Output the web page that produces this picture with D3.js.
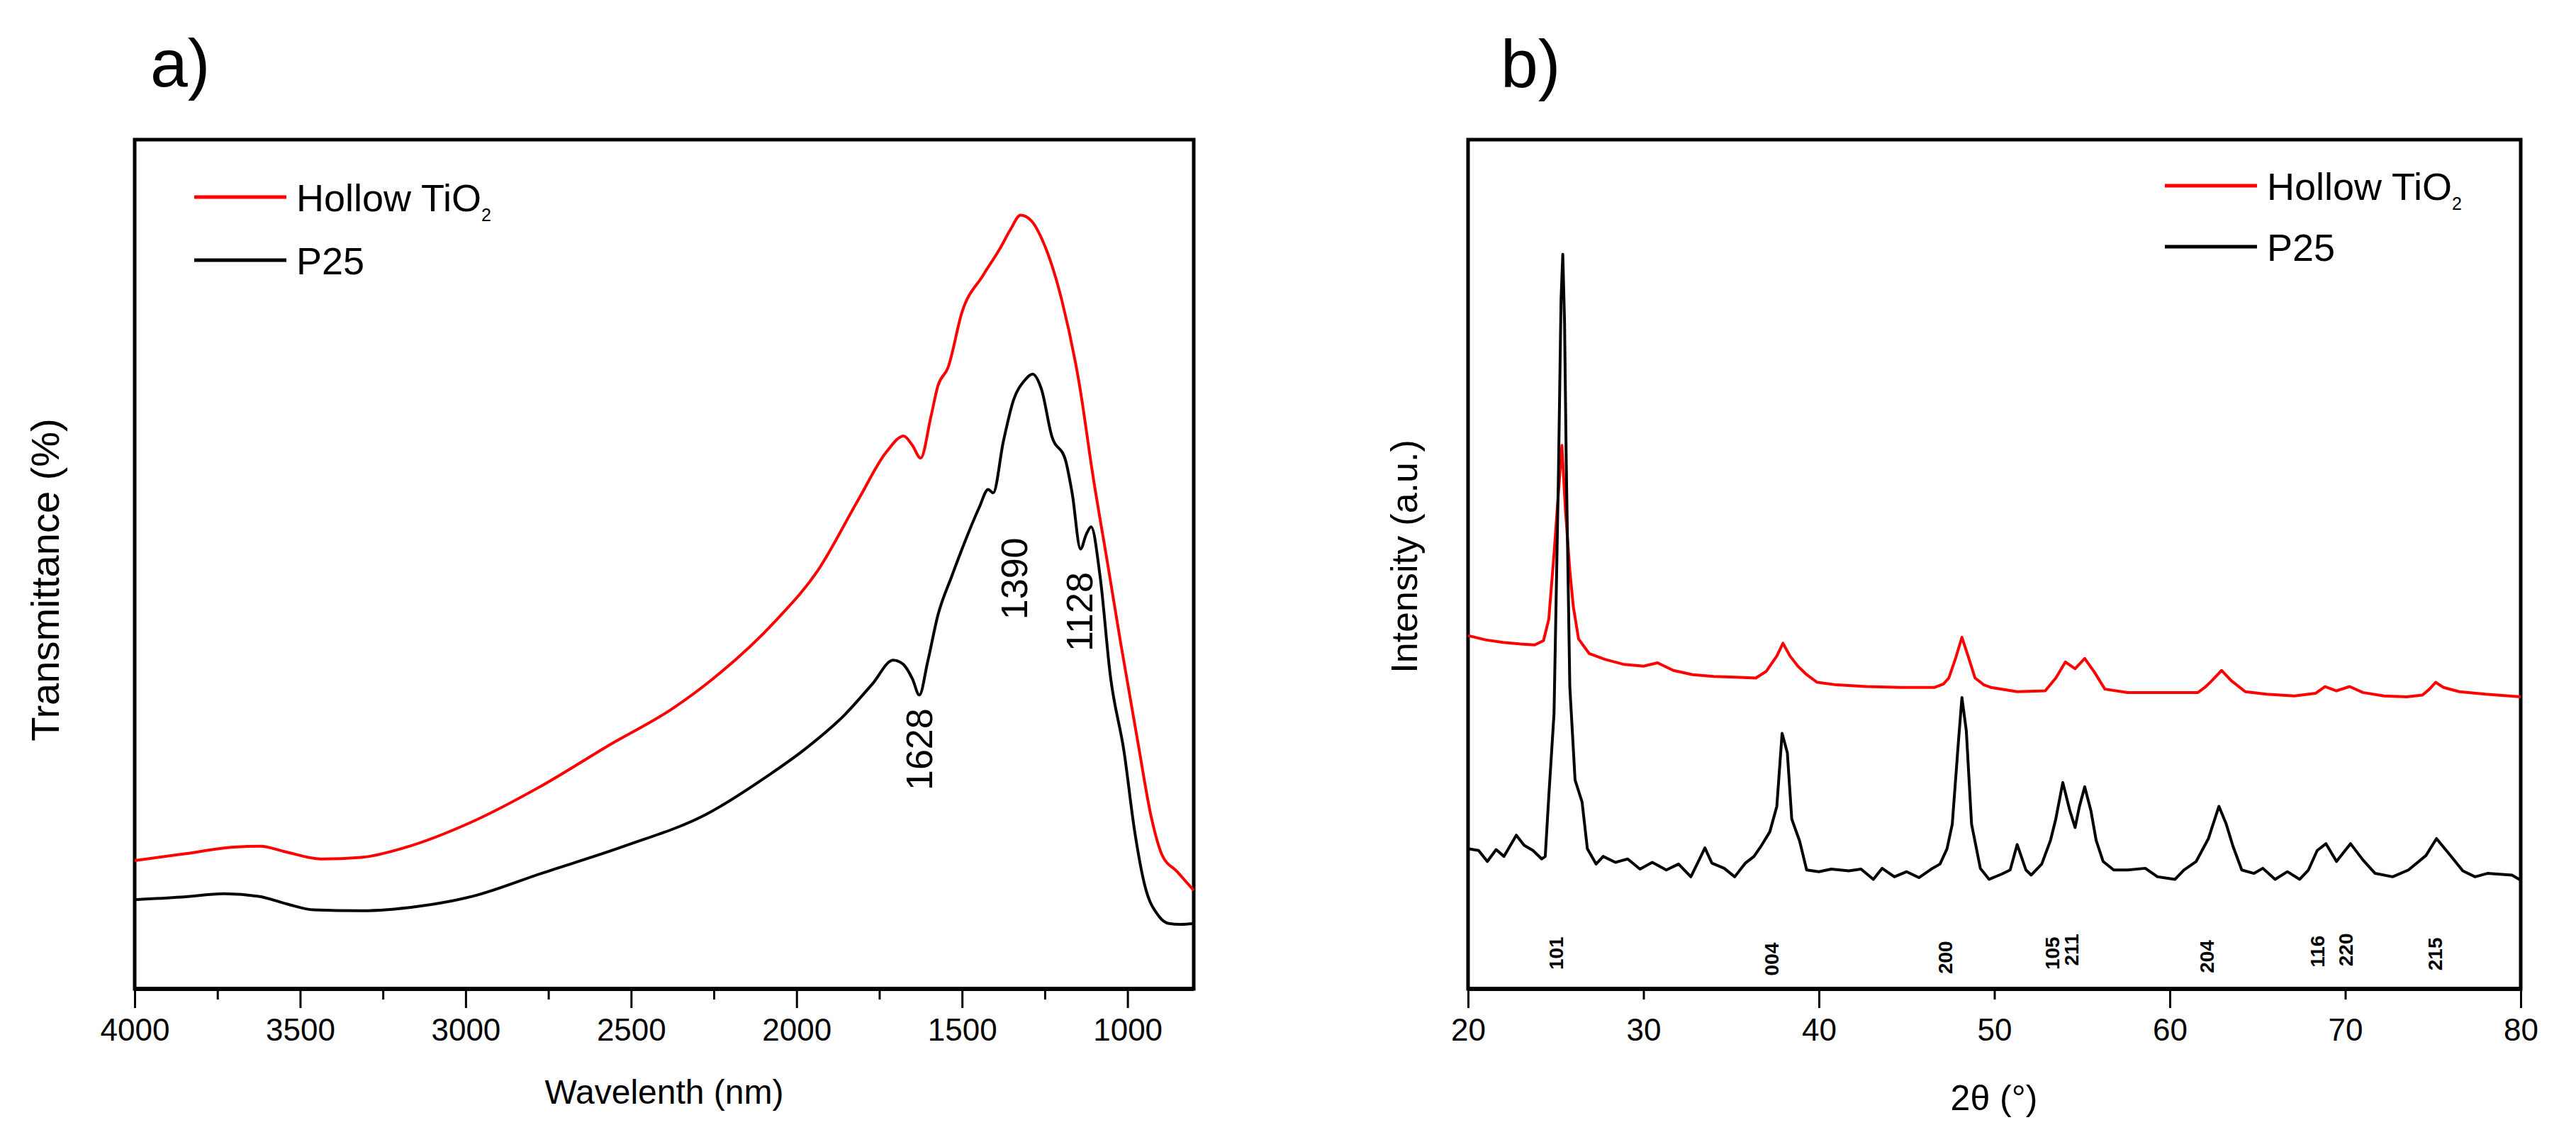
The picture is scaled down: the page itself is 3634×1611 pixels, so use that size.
<!DOCTYPE html>
<html>
<head>
<meta charset="utf-8">
<script src="https://cdn.jsdelivr.net/npm/d3@7"></script>
<style>
  body { margin: 0; background: #fff; }
  text { font-family: "Liberation Sans", Arial, sans-serif; fill: #000; }
</style>
</head>
<body>
<svg id="chart"></svg>
<script>
// ---- panel a : FTIR ----
const ftirHollow = [[4000,15.1],[3850,15.9],[3700,16.7],[3620,16.8],[3550,16.2],[3437,15.3],[3312,15.5],[3187,16.6],
  [2979,19.7],[2771,23.9],[2562,28.8],[2375,33.0],[2250,36.6],[2062,43.4],[1937,49.2],[1812,57.7],[1729,63.2],
  [1677,65.1],[1650,64.0],[1625,62.5],[1594,67.4],[1573,71.0],[1542,73.2],[1500,79.7],[1437,84.0],[1385,87.2],
  [1354,89.4],[1323,91.1],[1292,90.5],[1250,87.5],[1198,81.0],[1146,71.3],[1104,60.3],[1062,50.5],[1021,40.8],
  [969,29.1],[927,20.0],[896,15.8],[850,13.8],[800,11.6]];
const ftirP25 = [[4000,10.5],[3860,10.8],[3729,11.2],[3625,10.9],[3540,10.0],[3458,9.3],[3312,9.2],[3146,9.7],
  [2979,10.9],[2771,13.6],[2521,16.8],[2271,20.6],[2083,25.2],[1979,28.1],[1854,32.3],[1771,35.9],[1708,38.7],
  [1677,38.2],[1650,36.5],[1629,34.6],[1604,38.5],[1573,44.0],[1531,48.6],[1490,52.8],[1448,56.7],[1421,58.8],
  [1406,58.4],[1375,64.5],[1344,69.4],[1312,71.6],[1287,72.4],[1260,70.6],[1229,65.1],[1187,62.2],[1167,58.3],
  [1142,51.8],[1125,53.5],[1110,54.4],[1083,48.6],[1052,36.9],[1010,27.8],[979,18.7],[948,12.2],[906,8.6],
  [875,7.7],[840,7.6],[800,7.7]];
const ftirNotes = [["1628",1631,28.2],["1390",1344,48.3],["1128",1147,44.4]];
const ftirTicks = [4000,3500,3000,2500,2000,1500,1000];
const ftirMinor = [3750,3250,2750,2250,1750,1250];

// ---- panel b : XRD ----
const xrdHollow = [[20.0,41.6],[21.0,41.1],[22.0,40.8],[23.0,40.6],[23.8,40.5],[24.3,41.0],[24.6,43.5],[24.9,51.2],
  [25.15,58.4],[25.35,64.0],[25.55,56.4],[25.8,49.3],[26.0,45.0],[26.3,41.2],[26.9,39.5],[27.8,38.8],[28.9,38.2],
  [30.0,38.0],[30.8,38.4],[31.7,37.5],[32.8,37.0],[34.0,36.8],[35.2,36.7],[36.4,36.6],[37.0,37.4],[37.6,39.2],
  [37.95,40.7],[38.35,39.2],[38.8,38.0],[39.3,37.0],[39.9,36.1],[41.0,35.8],[42.7,35.6],[44.7,35.5],[46.6,35.5],
  [47.1,35.9],[47.4,36.6],[47.8,39.0],[48.15,41.4],[48.5,39.2],[48.9,36.6],[49.4,35.8],[49.8,35.5],[51.3,35.0],
  [52.9,35.1],[53.5,36.6],[54.05,38.5],[54.6,37.7],[55.15,38.9],[55.7,37.3],[56.3,35.3],[57.6,34.9],[59.5,34.9],
  [61.6,34.9],[62.0,35.5],[62.4,36.3],[62.95,37.5],[63.5,36.3],[64.3,35.0],[65.5,34.7],[67.1,34.5],[68.3,34.8],
  [68.85,35.6],[69.5,35.1],[70.25,35.6],[71.0,34.9],[72.2,34.5],[73.5,34.4],[74.4,34.6],[74.8,35.3],[75.15,36.1],
  [75.6,35.5],[76.5,35.0],[78.0,34.7],[80.0,34.4]];
const xrdP25 = [[20.0,16.5],[20.6,16.3],[21.1,15.0],[21.6,16.4],[22.05,15.6],[22.75,18.1],[23.2,16.9],[23.7,16.3],
  [24.2,15.3],[24.4,15.6],[24.6,22.6],[24.9,32.4],[25.15,60.3],[25.3,81.1],[25.4,86.5],[25.5,78.5],[25.6,61.6],
  [25.8,35.6],[26.1,24.6],[26.5,22.0],[26.8,16.5],[27.3,14.7],[27.7,15.6],[28.4,14.9],[29.1,15.3],[29.8,14.1],
  [30.5,14.9],[31.3,14.0],[32.0,14.7],[32.7,13.2],[33.2,15.3],[33.5,16.6],[33.9,14.8],[34.6,14.2],[35.2,13.2],
  [35.8,14.8],[36.3,15.6],[36.7,16.8],[37.2,18.5],[37.6,21.5],[37.9,30.1],[38.2,27.8],[38.45,20.0],[38.9,17.4],
  [39.3,14.0],[40.0,13.8],[40.7,14.1],[41.7,13.9],[42.4,14.1],[43.1,12.9],[43.6,14.2],[44.3,13.2],[45.0,13.8],
  [45.7,13.1],[46.4,14.1],[46.9,14.7],[47.3,16.5],[47.6,19.4],[47.95,29.1],[48.15,34.3],[48.4,30.4],[48.7,19.4],
  [49.2,14.2],[49.7,12.9],[50.4,13.5],[50.9,14.0],[51.3,17.0],[51.8,14.0],[52.1,13.4],[52.7,14.7],[53.2,17.5],
  [53.5,20.0],[53.9,24.3],[54.3,21.0],[54.6,19.0],[54.85,21.5],[55.15,23.8],[55.5,21.0],[55.8,17.5],[56.2,15.0],
  [56.8,14.0],[57.6,14.0],[58.6,14.2],[59.3,13.2],[60.3,12.9],[60.8,14.0],[61.5,15.0],[62.2,17.7],[62.8,21.5],
  [63.2,19.5],[63.6,16.8],[64.1,14.0],[64.8,13.6],[65.3,14.2],[66.0,12.9],[66.7,13.8],[67.4,12.9],[67.9,14.0],
  [68.4,16.3],[68.9,17.1],[69.5,15.0],[70.3,17.1],[71.0,15.2],[71.7,13.6],[72.7,13.2],[73.6,14.0],[74.6,15.7],
  [75.2,17.7],[76.0,15.7],[76.7,13.9],[77.4,13.2],[78.1,13.6],[78.8,13.5],[79.5,13.4],[80.0,12.8]];
const xrdPeaks = [["101",25.0,4.2],["004",37.3,3.5],["200",47.2,3.7],["105",53.3,4.2],["211",54.4,4.6],
  ["204",62.1,3.8],["116",68.4,4.4],["220",70.0,4.6],["215",75.1,4.1]];
const xrdTicks = [20,30,40,50,60,70,80];
const xrdMajor = [20,40,60,80];

const seriesNames = ["Hollow TiO", "P25"];
const seriesColors = ["#ff0000", "#000000"];

const W = 3634, H = 1611;
const plotTop = 197, plotBottom = 1395;

const svg = d3.select("#chart").attr("width", W).attr("height", H);

const yA = d3.scaleLinear().domain([0, 100]).range([plotBottom, plotTop]);
const xA = d3.scaleLinear().domain([4000, 800]).range([190, 1684]);
const xB = d3.scaleLinear().domain([20, 80]).range([2071, 3556]);

function frame(x0, x1) {
    svg.append("rect")
        .attr("x", x0).attr("y", plotTop)
        .attr("width", x1 - x0).attr("height", plotBottom - plotTop)
        .attr("fill", "none").attr("stroke", "#000").attr("stroke-width", 5);
}

function styleAxis(g) {
    g.select(".domain").remove();
    g.selectAll(".tick line").attr("stroke", "#000").attr("stroke-width", 3);
    g.selectAll(".tick text").attr("font-size", 44).attr("font-family", "Liberation Sans, Arial, sans-serif");
}

// panel a
frame(190, 1684);
svg.append("g").attr("transform", `translate(0,${plotBottom})`)
    .call(d3.axisBottom(xA).tickValues(ftirTicks).tickSize(27).tickPadding(15).tickFormat(d3.format("d")))
    .call(styleAxis);
svg.append("g").attr("transform", `translate(0,${plotBottom})`)
    .call(d3.axisBottom(xA).tickValues(ftirMinor).tickSize(15).tickFormat(""))
    .call(styleAxis);
svg.append("line").attr("x1", 190).attr("x2", 1684).attr("y1", plotBottom).attr("y2", plotBottom)
    .attr("stroke", "#000").attr("stroke-width", 6);

const lineA = d3.line().x(d => xA(d[0])).y(d => yA(d[1])).curve(d3.curveMonotoneX);
[ftirHollow, ftirP25].forEach((s, i) => {
    svg.append("path").datum(s).attr("d", lineA)
        .attr("fill", "none").attr("stroke", seriesColors[i]).attr("stroke-width", 4)
        .attr("stroke-linejoin", "round");
});

svg.selectAll(".noteA").data(ftirNotes).join("text")
    .attr("class", "noteA")
    .attr("transform", d => `translate(${xA(d[1])},${yA(d[2])}) rotate(-90)`)
    .attr("text-anchor", "middle").attr("dy", "0.36em")
    .attr("font-size", 52).text(d => d[0]);

// panel b
frame(2071, 3556);
svg.append("g").attr("transform", `translate(0,${plotBottom})`)
    .call(d3.axisBottom(xB).tickValues(xrdTicks).tickSize(15).tickPadding(27).tickFormat(d3.format("d")))
    .call(styleAxis);
svg.append("g").attr("transform", `translate(0,${plotBottom})`)
    .call(d3.axisBottom(xB).tickValues(xrdMajor).tickSize(27).tickFormat(""))
    .call(styleAxis);
svg.append("line").attr("x1", 2071).attr("x2", 3556).attr("y1", plotBottom).attr("y2", plotBottom)
    .attr("stroke", "#000").attr("stroke-width", 6);

const lineB = d3.line().x(d => xB(d[0])).y(d => yA(d[1]));
[xrdHollow, xrdP25].forEach((s, i) => {
    svg.append("path").datum(s).attr("d", lineB)
        .attr("fill", "none").attr("stroke", seriesColors[i]).attr("stroke-width", 4)
        .attr("stroke-linejoin", "round");
});

svg.selectAll(".peak").data(xrdPeaks).join("text")
    .attr("class", "peak")
    .attr("transform", d => `translate(${xB(d[1])},${yA(d[2])}) rotate(-90)`)
    .attr("text-anchor", "middle").attr("dy", "0.36em")
    .attr("font-size", 28).attr("font-weight", "bold").text(d => d[0]);

// legends
function legend(x0, y0, gap) {
    seriesNames.forEach((name, i) => {
        const y = y0 + i * gap;
        svg.append("line").attr("x1", x0).attr("x2", x0 + 130).attr("y1", y).attr("y2", y)
            .attr("stroke", seriesColors[i]).attr("stroke-width", 5);
        const t = svg.append("text").attr("x", x0 + 144).attr("y", y + 20).attr("font-size", 54).text(name);
        if (i === 0) t.append("tspan").attr("font-size", 25).attr("dy", 14).text("2");
    });
}
legend(274, 278, 89);
legend(3054, 262, 86);

// titles
svg.append("text").attr("x", 212).attr("y", 122).attr("font-size", 95).text("a)");
svg.append("text").attr("x", 2117).attr("y", 123).attr("font-size", 95).text("b)");

svg.append("text").attr("x", 937).attr("y", 1557).attr("text-anchor", "middle")
    .attr("font-size", 48).text("Wavelenth (nm)");
svg.append("text").attr("x", 2813).attr("y", 1566).attr("text-anchor", "middle")
    .attr("font-size", 50).text("2θ (°)");

svg.append("text").attr("transform", "translate(83,818) rotate(-90)").attr("text-anchor", "middle")
    .attr("font-size", 56).text("Transmittance (%)");
svg.append("text").attr("transform", "translate(1999,785) rotate(-90)").attr("text-anchor", "middle")
    .attr("font-size", 52).text("Intensity (a.u.)");
</script>
</body>
</html>
